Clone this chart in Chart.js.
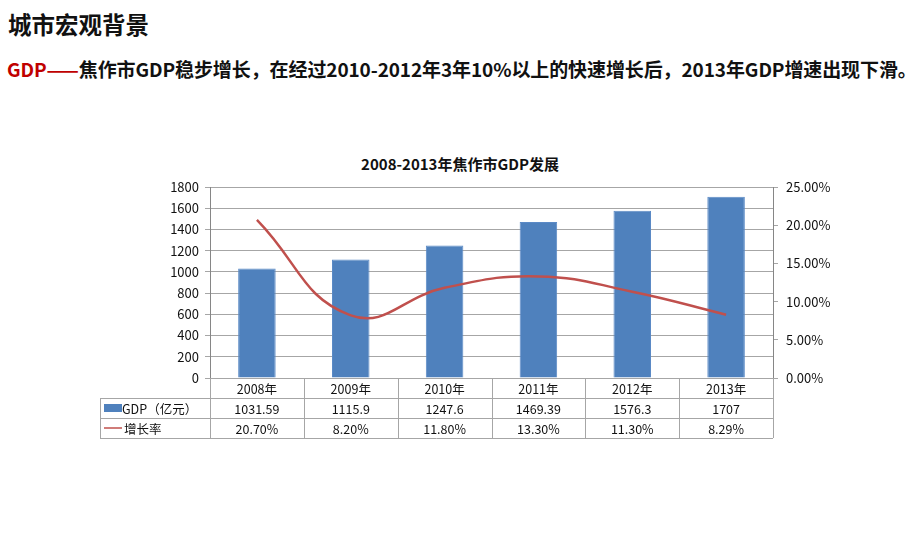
<!DOCTYPE html>
<html>
<head>
<meta charset="utf-8">
<script src="https://cdn.jsdelivr.net/npm/chart.js@4.4.1/dist/chart.umd.min.js"></script>
<style>
    html, body { margin: 0; padding: 0; background: #fff; }
    body { width: 920px; height: 548px; position: relative; overflow: hidden; font-family: "Noto Sans CJK SC", sans-serif; }
    #head { position: absolute; left: 8px; top: 7px; font-size: 23.5px; font-weight: bold; color: #111; }
    #sub { position: absolute; left: 7px; top: 55px; font-size: 19px; font-weight: bold; color: #111; white-space: nowrap; letter-spacing: -0.1px; }
    #sub span { color: #c00000; }
    #ctitle { position: absolute; left: 0; width: 920px; top: 153px; text-align: center; font-size: 15px; font-weight: bold; color: #111; }
    #wrap { position: absolute; left: 0; top: 0; width: 920px; height: 548px; }
</style>
</head>
<body>
<div id="head">城市宏观背景</div>
<div id="sub"><span>GDP——</span>焦作市GDP稳步增长，在经过2010-2012年3年10%以上的快速增长后，2013年GDP增速出现下滑。</div>
<div id="ctitle">2008-2013年焦作市GDP发展</div>
<div id="wrap"><canvas id="gdpChart" width="920" height="548"></canvas></div>
<script>
    var years = ['2008年', '2009年', '2010年', '2011年', '2012年', '2013年'];
    var gdpValues = [1031.59, 1115.9, 1247.6, 1469.39, 1576.3, 1707];
    var gdpLabels = ['1031.59', '1115.9', '1247.6', '1469.39', '1576.3', '1707'];
    var growthValues = [20.70, 8.20, 11.80, 13.30, 11.30, 8.29];
    var growthLabels = ['20.70%', '8.20%', '11.80%', '13.30%', '11.30%', '8.29%'];
    var seriesNames = ['GDP（亿元）', '增长率'];

    var barColor = '#4f81bd';
    var lineColor = '#c0504d';
    var gridColor = '#a6a6a6';
    var tickFont = { family: '"Noto Sans CJK SC", sans-serif', size: 13 };

    // data table under the plot, columns follow the x scale
    var dataTable = {
        id: 'dataTable',
        afterDraw: function (chart) {
            var ctx = chart.ctx;
            var area = chart.chartArea;
            var x = chart.scales.x;
            var rowH = 20;
            var top = area.bottom;
            var left = 100;
            var step = (area.right - area.left) / years.length;

            ctx.save();
            ctx.strokeStyle = gridColor;
            ctx.lineWidth = 1;
            ctx.beginPath();
            // horizontal lines
            ctx.moveTo(area.left, top + 0.5); ctx.lineTo(area.right, top + 0.5);
            ctx.moveTo(left, top + rowH + 0.5); ctx.lineTo(area.right, top + rowH + 0.5);
            ctx.moveTo(left, top + rowH * 2 + 0.5); ctx.lineTo(area.right, top + rowH * 2 + 0.5);
            ctx.moveTo(left, top + rowH * 3 + 0.5); ctx.lineTo(area.right, top + rowH * 3 + 0.5);
            // vertical lines
            for (var i = 0; i <= years.length; i++) {
                var vx = Math.round(area.left + i * step) + 0.5;
                ctx.moveTo(vx, top); ctx.lineTo(vx, top + rowH * 3);
            }
            ctx.moveTo(left + 0.5, top + rowH); ctx.lineTo(left + 0.5, top + rowH * 3);
            ctx.stroke();

            ctx.fillStyle = '#111';
            ctx.font = '12.5px "Noto Sans CJK SC", sans-serif';
            ctx.textAlign = 'center';
            ctx.textBaseline = 'middle';
            years.forEach(function (y, i) {
                var cx = x.getPixelForValue(i);
                ctx.fillText(y, cx, top + rowH * 0.5 + 1);
                ctx.fillText(gdpLabels[i], cx, top + rowH * 1.5 + 1);
                ctx.fillText(growthLabels[i], cx, top + rowH * 2.5 + 1);
            });

            // legend keys
            ctx.fillStyle = barColor;
            ctx.fillRect(left + 4, top + rowH * 1.5 - 4, 18, 8);
            ctx.strokeStyle = lineColor;
            ctx.lineWidth = 1.5;
            ctx.beginPath();
            ctx.moveTo(left + 4, top + rowH * 2.5); ctx.lineTo(left + 22, top + rowH * 2.5);
            ctx.stroke();

            ctx.fillStyle = '#111';
            ctx.textAlign = 'left';
            ctx.fillText(seriesNames[0], left + 22, top + rowH * 1.5 + 1);
            ctx.fillText(seriesNames[1], left + 24, top + rowH * 2.5 + 1);
            ctx.restore();
        }
    };

    new Chart(document.getElementById('gdpChart'), {
        type: 'bar',
        data: {
            labels: years,
            datasets: [{
                type: 'line',
                label: seriesNames[1],
                data: growthValues,
                yAxisID: 'y1',
                borderColor: lineColor,
                borderWidth: 2.5,
                pointRadius: 0,
                tension: 0.45,
                fill: false,
                order: 0
            }, {
                label: seriesNames[0],
                data: gdpValues,
                yAxisID: 'y',
                backgroundColor: barColor,
                borderColor: '#5b8ac6',
                borderWidth: 1,
                categoryPercentage: 1,
                barPercentage: 0.4,
                order: 1
            }]
        },
        options: {
            responsive: false,
            animation: false,
            layout: { padding: { left: 0, right: 77, top: 187, bottom: 170 } },
            plugins: {
                legend: { display: false },
                tooltip: { enabled: false }
            },
            scales: {
                x: {
                    display: false,
                    offset: true
                },
                y: {
                    position: 'left',
                    min: 0,
                    max: 1800,
                    ticks: {
                        stepSize: 200, color: '#111', font: tickFont, padding: 6,
                        callback: function (v) { return String(v); }
                    },
                    grid: { color: gridColor, tickLength: 5 },
                    border: { color: '#868686' },
                    afterFit: function (s) { s.width = 210; }
                },
                y1: {
                    position: 'right',
                    min: 0,
                    max: 25,
                    ticks: {
                        stepSize: 5, color: '#111', font: tickFont, padding: 8,
                        callback: function (v) { return v.toFixed(2) + '%'; }
                    },
                    grid: { drawOnChartArea: false, color: gridColor, tickLength: 5 },
                    border: { color: '#868686' },
                    afterFit: function (s) { s.width = 70; }
                }
            }
        },
        plugins: [dataTable]
    });
</script>
</body>
</html>
